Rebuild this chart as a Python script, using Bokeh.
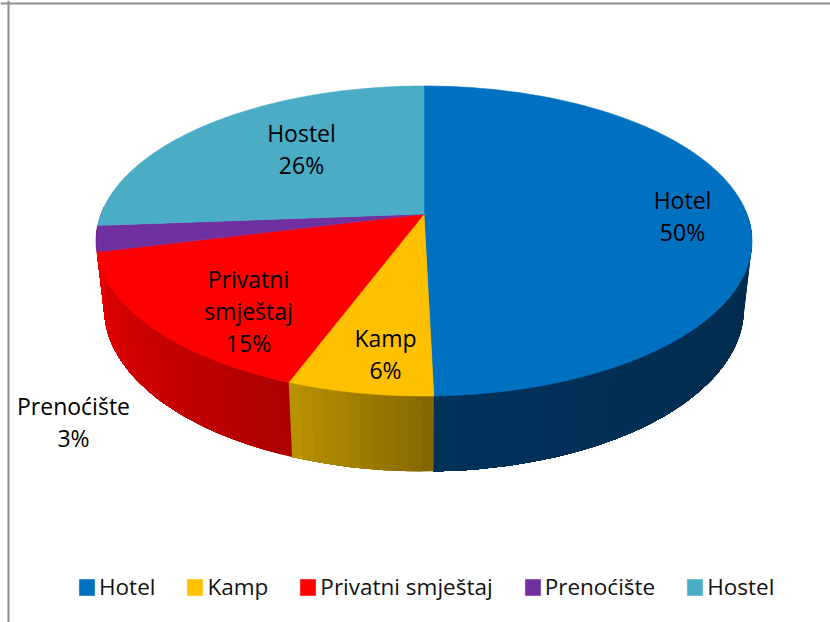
import numpy as np
from bokeh.plotting import figure
from bokeh.models import Span, Range1d, Legend, LegendItem, ColumnDataSource
from bokeh.core.properties import value
from bokeh.embed import file_html
from bokeh.resources import INLINE

categories = ["Hotel", "Kamp", "Privatni smještaj", "Prenoćište", "Hostel"]
shares = [49.6, 6.1, 15.4, 2.7, 26.2]
top_colors = ["#0070C0", "#FFC000", "#FF0000", "#7030A0", "#4BACC6"]
wall_from = ["#002A4C", "#866800", "#AE0000", "#E40000", "#E40000"]
wall_to = ["#003A68", "#B89200", "#E40000", "#E40000", "#E40000"]
label_lines = [["Hotel"], ["Kamp"], ["Privatni", "smještaj"], ["Prenoćište"], ["Hostel"]]
label_x = [682, 385, 248, 73, 301]
label_y = [199, 337, 278, 405, 132]

FONT = "Open Sans"
SIZE = "23px"
LEGEND_SIZE = "22.5px"
LINE_STEP = 32

CX = 423.5
APEX_Y = 213.5
K = 0.1742


def project(t, y0, a, b):
    u, v = np.sin(t), -np.cos(t)
    w = 1 - K * v
    return CX + a * u / w, y0 + b * v / w


def top(t):
    return project(t, APEX_Y, 323, 150.3)


def base(t):
    return project(t, 279.6, 315, 158)


def mix(c1, c2, f):
    a = [int(c1[i:i + 2], 16) for i in (1, 3, 5)]
    b = [int(c2[i:i + 2], 16) for i in (1, 3, 5)]
    return "#%02x%02x%02x" % tuple(int(round(p + (q - p) * f)) for p, q in zip(a, b))


p = figure(width=830, height=622, output_backend="svg", toolbar_location=None,
           x_range=Range1d(0, 830), y_range=Range1d(622, 0), min_border=0,
           outline_line_color=None, background_fill_color="white",
           border_fill_color="white")
p.axis.visible = False
p.grid.visible = False
p.add_layout(Span(location=8, dimension="height", line_color="#8E8E8E", line_width=2))
p.add_layout(Span(location=3, dimension="width", line_color="#8E8E8E", line_width=2))

edges = np.concatenate([[0], np.cumsum(shares)]) / sum(shares) * 2 * np.pi

# side wall: bands painted over each other, each reaching to the end of its slice
for i in range(len(shares)):
    n = max(int((edges[i + 1] - edges[i]) / 0.03), 2)
    ts = np.linspace(edges[i], edges[i + 1], n + 1)
    ts = ts[-np.cos(ts) > -0.05]
    for j in range(len(ts) - 1):
        rest = ts[j:]
        xa, ya = top(rest)
        xb, yb = base(rest)
        c = mix(wall_from[i], wall_to[i], j / max(n - 1, 1))
        p.patch(np.concatenate([xa, xb[::-1]]), np.concatenate([ya, yb[::-1]]),
                fill_color=c, line_color=None)

# top surface
items = []
for i, name in enumerate(categories):
    ts = np.linspace(edges[i], edges[i + 1], 120)
    xs, ys = top(ts)
    xs = np.concatenate([[CX], xs])
    ys = np.concatenate([[APEX_Y], ys])
    r = p.patch(xs, ys, fill_color=top_colors[i], line_color=top_colors[i], line_width=0.6)
    items.append(LegendItem(label=name, renderers=[r]))

# data labels
tx, ty, tt = [], [], []
for i, share in enumerate(shares):
    lines = label_lines[i] + [f"{round(share)}%"]
    for k, s in enumerate(lines):
        tx.append(label_x[i])
        ty.append(label_y[i] + k * LINE_STEP)
        tt.append(s)
p.text(x="x", y="y", text="t", source=ColumnDataSource(dict(x=tx, y=ty, t=tt)),
       text_font=value(FONT), text_font_size=value(SIZE), text_color="#000000",
       text_align="center", text_baseline="middle")

legend = Legend(items=items, orientation="horizontal", location=(77, 20),
                label_text_font=FONT, label_text_font_size=LEGEND_SIZE, label_text_color="#111111",
                glyph_width=19, glyph_height=20, label_standoff=3, spacing=30,
                border_line_color=None, background_fill_alpha=0, margin=0, padding=9)
p.add_layout(legend, "center")

open("out.html", "w").write(file_html(p, INLINE))
